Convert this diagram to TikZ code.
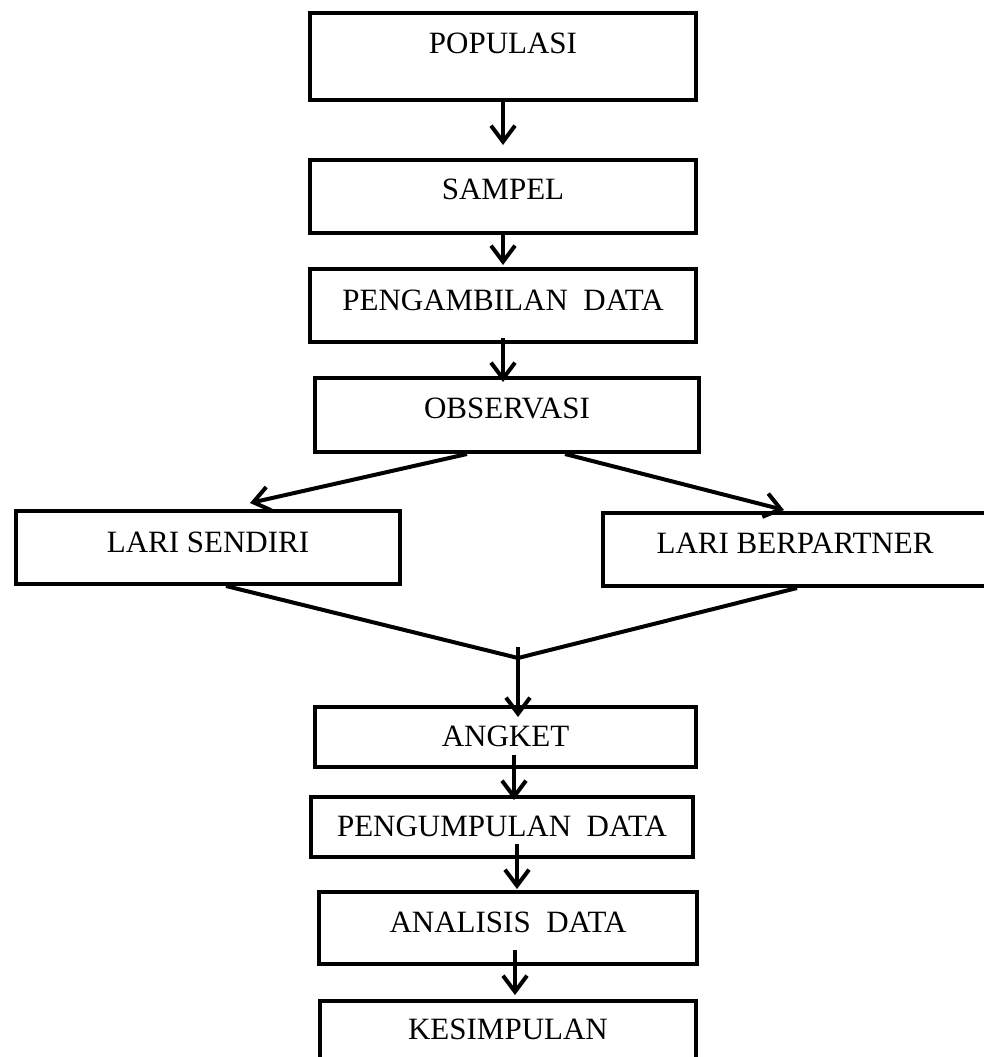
\documentclass[tikz,border=0pt]{standalone}
\usepackage{fontspec}
\setmainfont{Liberation Serif}
\usetikzlibrary{arrows.meta}
\tikzset{
  box/.style={draw, line width=4pt, rectangle, inner xsep=0pt, inner ysep=0pt, anchor=north, font=\fontsize{31}{37}\selectfont},
  arr/.style={line width=4pt, -{Straight Barb[length=16pt,width=24pt]}},
  ln/.style={line width=4pt}
}
\begin{document}
\begin{tikzpicture}[x=1pt,y=-1pt]
\fill[white] (0,0) rectangle (984,1057);
\useasboundingbox (0,0) rectangle (984,1057);
\node[box, minimum width=386pt, text height=41pt, text depth=46pt] (pop) at (503,11) {POPULASI};
\node[box, minimum width=386pt, text height=39pt, text depth=34pt] (sam) at (503,158) {SAMPEL};
\node[box, minimum width=386pt, text height=41pt, text depth=32pt] (pga) at (503,267) {PENGAMBILAN\ \ DATA};
\node[box, minimum width=384pt, text height=40pt, text depth=34pt] (obs) at (507,376) {OBSERVASI};
\node[box, minimum width=384pt, text height=41pt, text depth=32pt] (ls) at (208,509) {LARI SENDIRI};
\node[box, minimum width=384pt, text height=40pt, text depth=33pt] (lb) at (795,511) {LARI BERPARTNER};
\node[box, minimum width=381pt, text height=39pt, text depth=21pt] (ang) at (505.5,705) {ANGKET};
\node[box, minimum width=382pt, text height=39pt, text depth=21pt] (pgm) at (502,795) {PENGUMPULAN\ \ DATA};
\node[box, minimum width=378pt, text height=40pt, text depth=32pt] (ana) at (508,890) {ANALISIS\ \ DATA};
\node[box, minimum width=376pt, text height=38pt, text depth=33pt] (kes) at (508,999) {KESIMPULAN};
% arrows
\draw[arr] (pop.south) -- ([yshift=13pt]sam.north);
\draw[arr] (sam.south) -- ([yshift=2pt]pga.north);
\draw[arr] ([yshift=6pt]pga.south) -- ([yshift=-6pt]obs.north -| pga.south);
\draw[arr] ([xshift=-40pt]obs.south) -- ([xshift=42pt,yshift=6pt]ls.north);
\draw[arr] ([xshift=58pt]obs.south) -- ([xshift=-11pt,yshift=1pt]lb.north);
\coordinate (m) at (518,658);
\draw[ln] ([xshift=18pt]ls.south) -- (m) -- ([xshift=2pt]lb.south);
\draw[arr] ([yshift=11pt]m) -- ([yshift=-12pt]ang.north -| m);
\coordinate (s1) at ([xshift=8.5pt,yshift=14pt]ang.south);
\draw[arr] (s1) -- ([yshift=-5pt]pgm.north -| s1);
\coordinate (s2) at ([xshift=15pt,yshift=15pt]pgm.south);
\draw[arr] (s2) -- ([yshift=1pt]ana.north -| s2);
\coordinate (s3) at ([xshift=7pt,yshift=16pt]ana.south);
\draw[arr] (s3) -- ([yshift=4pt]kes.north -| s3);
\end{tikzpicture}
\end{document}
